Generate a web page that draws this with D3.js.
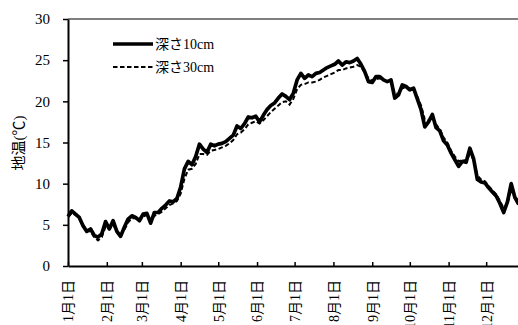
<!DOCTYPE html>
<html>
<head>
<meta charset="utf-8">
<script src="https://cdn.jsdelivr.net/npm/d3@7"></script>
<style>
  body { margin: 0; background: #fff; }
  svg { display: block; }
  text { font-family: "Liberation Serif", "Times New Roman", "Noto Sans CJK JP", serif; fill: #000; }
</style>
</head>
<body>
<svg width="518" height="325"></svg>
<script>
// soil temperature, one reading every 3 days from Jan 1
const startDate = new Date(2015, 0, 1);
const stepDays = 3;

const depth10 = [
  6.0, 6.7, 6.3, 5.9, 4.9, 4.2, 4.5, 3.7, 3.5, 3.9,
  5.4, 4.5, 5.5, 4.2, 3.6, 4.7, 5.7, 6.1, 5.9, 5.5,
  6.3, 6.4, 5.2, 6.5, 6.5, 7.0, 7.4, 7.9, 7.8, 8.2,
  9.6, 11.8, 12.7, 12.3, 13.3, 14.8, 14.2, 13.8, 14.8, 14.6,
  14.8, 14.9, 15.1, 15.5, 15.9, 17.0, 16.7, 17.3, 18.1, 18.0,
  18.2, 17.5, 18.3, 19.0, 19.5, 19.8, 20.4, 20.9, 20.6, 20.2,
  21.0, 22.6, 23.4, 22.8, 23.2, 23.0, 23.4, 23.5, 23.8, 24.1,
  24.3, 24.5, 24.9, 24.4, 24.8, 24.7, 24.9, 25.2, 24.5, 23.6,
  22.4, 22.3, 23.0, 23.0, 22.6, 22.4, 22.6, 20.4, 20.8, 22.0,
  21.8, 21.4, 21.6, 20.3, 19.0, 16.9, 17.5, 18.4, 16.8, 16.4,
  15.2, 14.7, 13.7, 12.9, 12.1, 12.7, 12.6, 14.3, 13.0, 10.5,
  10.2, 10.1, 9.5, 9.0, 8.5, 7.6, 6.5, 7.8, 10.0, 8.3,
  7.5
];

const depth30 = [
  6.0, 6.4, 6.2, 5.8, 5.0, 4.3, 4.2, 3.5, 3.1, 3.5,
  4.8, 4.5, 5.0, 4.3, 3.7, 4.4, 5.3, 5.8, 5.8, 5.5,
  6.0, 6.2, 5.5, 6.1, 6.3, 6.6, 7.0, 7.4, 7.6, 7.9,
  8.8, 10.6, 11.7, 11.8, 12.4, 13.6, 13.6, 13.5, 14.0, 14.1,
  14.2, 14.4, 14.6, 14.9, 15.3, 16.0, 16.2, 16.6, 17.2, 17.4,
  17.6, 17.3, 17.7, 18.2, 18.7, 19.1, 19.5, 19.9, 20.0, 19.6,
  20.3, 21.5, 22.0, 22.1, 22.3, 22.3, 22.4, 22.6, 22.9, 23.1,
  23.3, 23.5, 23.8, 23.8, 24.0, 24.1, 24.2, 24.4, 24.2, 23.5,
  22.8, 22.5, 22.7, 22.8, 22.6, 22.4, 22.3, 21.0, 20.9, 21.6,
  21.7, 21.4, 21.4, 20.6, 19.5, 17.8, 17.7, 18.1, 17.2, 16.6,
  15.6, 15.0, 14.0, 13.3, 12.7, 12.9, 12.8, 13.6, 12.9, 11.0,
  10.5, 10.3, 9.7, 9.2, 8.7, 7.9, 7.0, 7.6, 9.2, 8.5,
  7.8
];

const seriesNames = ["深さ10cm", "深さ30cm"];
const yTicks = [0, 5, 10, 15, 20, 25, 30];
const monthLabels = ["1月1日", "2月1日", "3月1日", "4月1日", "5月1日", "6月1日",
  "7月1日", "8月1日", "9月1日", "10月1日", "11月1日", "12月1日"];
const yTitle = "地温(℃)";

var svg = d3.select("svg");
const plotLeft = 68, plotTop = 19, plotBottom = 266;

var x = d3.scaleTime()
  .domain([startDate, new Date(2016, 0, 1)])
  .range([plotLeft, plotLeft + 365 * 1.252]);
var y = d3.scaleLinear().domain([0, 30]).range([plotBottom, plotTop]);

const dates = depth10.map((d, i) => d3.timeDay.offset(startDate, i * stepDays));
const monthDates = monthLabels.map((d, i) => new Date(2015, i, 1));

// top border of plot area
svg.append("line")
  .attr("x1", plotLeft).attr("x2", 518)
  .attr("y1", y(30)).attr("y2", y(30))
  .attr("stroke", "#000").attr("stroke-width", 1.2);

// y axis
var yAxis = svg.append("g")
  .attr("transform", `translate(${plotLeft},0)`)
  .call(d3.axisLeft(y).tickValues(yTicks).tickSize(5).tickPadding(13).tickSizeOuter(0));
yAxis.select(".domain").attr("stroke-width", 2);
yAxis.selectAll(".tick line").attr("stroke-width", 1.5);
yAxis.selectAll("text").attr("font-size", "15px")
  .style("font-family", "'Liberation Serif', serif");

// x axis, ticks pointing up into the plot
var xAxis = svg.append("g")
  .attr("transform", `translate(0,${plotBottom})`)
  .call(d3.axisBottom(x).tickValues(monthDates).tickSizeInner(-4).tickSizeOuter(0).tickFormat(""));
xAxis.select(".domain").attr("stroke-width", 2);
xAxis.selectAll(".tick line").attr("stroke-width", 1.5);
xAxis.selectAll(".tick text").remove();
xAxis.selectAll(".tick")
  .append("text")
  .attr("transform", "rotate(-90)")
  .attr("x", -14)
  .attr("dy", "0.35em")
  .attr("text-anchor", "end")
  .attr("font-size", "14px")
  .text((d, i) => monthLabels[i]);

// y title
svg.append("text")
  .attr("transform", "translate(19,143) rotate(-90)")
  .attr("text-anchor", "middle")
  .attr("dy", "0.35em")
  .attr("font-size", "15px")
  .text(yTitle);

var line = d3.line()
  .x((d, i) => x(dates[i]))
  .y((d) => y(d));

svg.append("path")
  .datum(depth10)
  .attr("d", line)
  .attr("fill", "none")
  .attr("stroke", "#000")
  .attr("stroke-width", 3.7)
  .attr("stroke-linejoin", "round");

svg.append("path")
  .datum(depth30)
  .attr("d", line)
  .attr("fill", "none")
  .attr("stroke", "#000")
  .attr("stroke-width", 2)
  .attr("stroke-dasharray", "4.5,2.5");

// legend
var legend = svg.append("g");
var legendItems = legend.selectAll("g")
  .data(seriesNames)
  .enter()
  .append("g")
  .attr("transform", (d, i) => `translate(113,${44 + i * 23})`);

legendItems.append("line")
  .attr("x1", 0).attr("x2", 40)
  .attr("stroke", "#000")
  .attr("stroke-width", (d, i) => (i == 0 ? 3.7 : 2))
  .attr("stroke-dasharray", (d, i) => (i == 0 ? null : "4.5,2.5"));

legendItems.append("text")
  .attr("x", 42)
  .attr("dy", "0.35em")
  .attr("font-size", "14px")
  .text((d) => d);
</script>
</body>
</html>
